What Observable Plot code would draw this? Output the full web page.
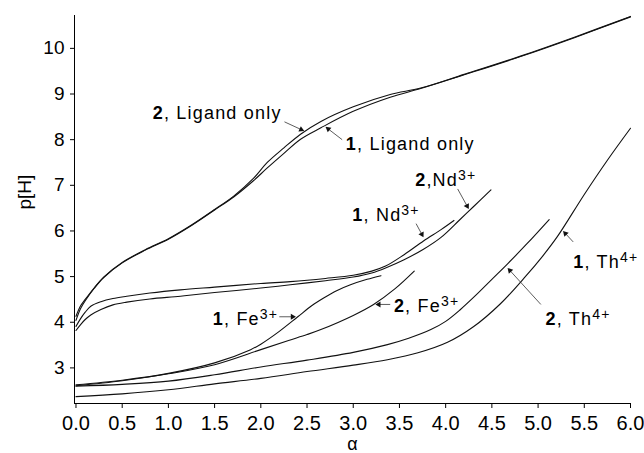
<!DOCTYPE html>
<html><head><meta charset="utf-8">
<script src="https://cdn.jsdelivr.net/npm/d3@7"></script>
<script src="https://cdn.jsdelivr.net/npm/@observablehq/plot@0.6"></script>
<style>body{margin:0;background:#fff} svg{display:block}</style>
</head><body><div id="chart"></div>
<script>
// ---- axes ----
const xDomain = [-0.016, 6];
const yDomain = [2.22, 10.72];
const xTicks = [0, 0.5, 1, 1.5, 2, 2.5, 3, 3.5, 4, 4.5, 5, 5.5, 6];
const yTicks = [3, 4, 5, 6, 7, 8, 9, 10];
const xLabel = "α";
const yLabel = "p[H]";

// ---- series (alpha, p[H]) ----
const lig1A = [0, 0.05, 0.1, 0.2, 0.3, 0.5, 0.75, 1.0, 1.25, 1.5, 1.71, 1.92, 2.07, 2.25, 2.43, 2.65, 3.0, 3.4, 3.73, 4.2, 4.81, 5.4, 6.0];
const lig1P = [4.04, 4.3, 4.47, 4.75, 4.98, 5.3, 5.58, 5.82, 6.12, 6.46, 6.75, 7.1, 7.38, 7.7, 8.01, 8.26, 8.62, 8.93, 9.12, 9.42, 9.82, 10.24, 10.69];
const lig2A = [0, 0.05, 0.1, 0.2, 0.3, 0.5, 0.75, 1.0, 1.25, 1.5, 1.71, 1.92, 2.07, 2.25, 2.43, 2.65, 3.0, 3.4, 3.73, 4.2, 4.81, 5.4, 6.0];
const lig2P = [4.13, 4.36, 4.5, 4.76, 4.99, 5.31, 5.59, 5.83, 6.13, 6.47, 6.77, 7.15, 7.5, 7.82, 8.12, 8.4, 8.72, 8.99, 9.13, 9.43, 9.83, 10.25, 10.7];
const nd1A = [0, 0.05, 0.1, 0.16, 0.27, 0.4, 0.55, 0.8, 1.13, 1.5, 2.0, 2.32, 2.7, 3.0, 3.2, 3.35, 3.55, 3.76, 3.95, 4.09];
const nd1P = [3.91, 4.08, 4.22, 4.35, 4.45, 4.52, 4.57, 4.64, 4.71, 4.77, 4.85, 4.89, 4.96, 5.03, 5.12, 5.23, 5.48, 5.78, 6.03, 6.23];
const nd2A = [0, 0.05, 0.1, 0.16, 0.27, 0.4, 0.55, 0.8, 1.13, 1.5, 2.0, 2.32, 2.7, 3.0, 3.2, 3.35, 3.55, 3.76, 3.95, 4.15, 4.3, 4.49];
const nd2P = [3.82, 3.95, 4.06, 4.16, 4.28, 4.38, 4.44, 4.51, 4.57, 4.65, 4.75, 4.82, 4.91, 4.99, 5.08, 5.19, 5.37, 5.6, 5.86, 6.24, 6.53, 6.9];
const fe1A = [0, 0.5, 1.0, 1.5, 1.89, 2.0, 2.2, 2.4, 2.55, 2.68, 2.82, 2.97, 3.15, 3.3];
const fe1P = [2.63, 2.73, 2.88, 3.11, 3.4, 3.52, 3.8, 4.12, 4.36, 4.53, 4.69, 4.82, 4.94, 5.02];
const fe2A = [0, 0.5, 1.0, 1.5, 2.0, 2.3, 2.5, 2.65, 3.0, 3.22, 3.45, 3.66];
const fe2P = [2.61, 2.72, 2.87, 3.07, 3.4, 3.6, 3.73, 3.84, 4.15, 4.39, 4.73, 5.12];
const th1A = [0, 0.5, 1.0, 1.5, 2.0, 2.5, 3.0, 3.37, 3.7, 4.02, 4.3, 4.59, 4.85, 5.05, 5.21, 5.5, 5.75, 6.0];
const th1P = [2.37, 2.43, 2.52, 2.65, 2.77, 2.92, 3.06, 3.18, 3.33, 3.56, 3.9, 4.4, 4.97, 5.45, 5.88, 6.8, 7.55, 8.25];
const th2A = [0, 0.5, 1.0, 1.5, 2.0, 2.5, 3.0, 3.37, 3.6, 3.84, 4.0, 4.16, 4.31, 4.5, 4.67, 4.88, 5.12];
const th2P = [2.6, 2.64, 2.71, 2.85, 3.02, 3.17, 3.34, 3.51, 3.65, 3.84, 4.02, 4.28, 4.56, 4.94, 5.28, 5.72, 6.25];

// ---- annotations ----
const labNum  = ["2", "1", "2", "1", "1", "2", "1", "2"];
const labName = [", Ligand only", ", Ligand only", ",Nd", ", Nd", ", Fe", ", Fe", ", Th", ", Th"];
const labSup  = ["", "", "3+", "3+", "3+", "3+", "4+", "4+"];
const labA = [0.83, 2.92, 3.67, 2.99, 1.48, 3.44, 5.38, 5.08];
const labP = [8.58, 7.90, 7.11, 6.34, 4.07, 4.36, 5.32, 4.07];
const arrA1 = [2.256, 2.88, 4.13, 3.68, 2.20, 3.40, 5.38, 5.03];
const arrP1 = [8.39, 8.00, 6.92, 6.16, 4.12, 4.39, 5.76, 4.39];
const arrA2 = [2.47, 2.70, 4.25, 3.76, 2.38, 3.24, 5.27, 4.67];
const arrP2 = [8.19, 8.28, 6.48, 5.86, 4.12, 4.39, 6.00, 5.19];

const series = [
  ["lig1", lig1A, lig1P], ["lig2", lig2A, lig2P],
  ["nd1", nd1A, nd1P], ["nd2", nd2A, nd2P],
  ["fe1", fe1A, fe1P], ["fe2", fe2A, fe2P],
  ["th1", th1A, th1P], ["th2", th2A, th2P]
];
const rows = series.flatMap(([id, a, p]) => a.map((v, i) => ({id, a: v, p: p[i]})));

const W = 644, H = 453, mL = 74, mR = 14, mT = 15, mB = 50;
const sx = Plot.scale({x: {domain: xDomain, range: [mL, W - mR]}});
const sy = Plot.scale({y: {domain: yDomain, range: [H - mB, mT]}});
const HEAD = 3.4;
const arrows = labNum.map((_, i) => {
  const px1 = sx.apply(arrA1[i]), py1 = sy.apply(arrP1[i]);
  const px2 = sx.apply(arrA2[i]), py2 = sy.apply(arrP2[i]);
  const len = Math.hypot(px2 - px1, py2 - py1);
  const ux = (px2 - px1) / len, uy = (py2 - py1) / len;
  return {
    x1: arrA1[i], y1: arrP1[i],
    hx: sx.invert(px2 - ux * HEAD), hy: sy.invert(py2 - uy * HEAD),
    rot: Math.atan2(ux, -uy) * 180 / Math.PI
  };
});
const labels = labNum.map((n, i) => ({a: labA[i], p: labP[i], t: n + "|" + labName[i] + "|" + labSup[i]}));

const svg = Plot.plot({
  width: W, height: H,
  marginLeft: mL, marginRight: mR, marginTop: mT, marginBottom: mB,
  x: {domain: xDomain},
  y: {domain: yDomain},
  style: {fontFamily: "'Liberation Sans', Arial, Helvetica, sans-serif", background: "#fff", color: "#000"},
  marks: [
    Plot.axisX({ticks: xTicks, tickFormat: d3.format(".1f"), tickSize: 5, tickPadding: 7, fontSize: 20, label: null}),
    Plot.axisY({ticks: yTicks, tickSize: 4, tickPadding: 6, fontSize: 19, label: null}),
    Plot.ruleX([xDomain[0]], {stroke: "#000", strokeWidth: 1}),
    Plot.ruleY([yDomain[0]], {stroke: "#000", strokeWidth: 1}),
    Plot.line(rows, {x: "a", y: "p", z: "id", curve: "catmull-rom", stroke: "#111", strokeWidth: 1.1}),
    Plot.link(arrows, {x1: "x1", y1: "y1", x2: "hx", y2: "hy", stroke: "#333", strokeWidth: 0.8}),
    Plot.dot(arrows, {x: "hx", y: "hy", symbol: "triangle", r: 2.2, fill: "#111", stroke: null, rotate: "rot"}),
    Plot.text(labels, {x: "a", y: "p", text: "t", textAnchor: "start", lineAnchor: "middle", fontSize: 18, fill: "#000"}),
    Plot.text([yLabel], {frameAnchor: "left", dx: -50, rotate: -90, fontSize: 19, fill: "#000"}),
    Plot.text([xLabel], {frameAnchor: "bottom", dy: 46, lineAnchor: "bottom", fontSize: 18, fill: "#000"})
  ]
});

d3.select(svg).selectAll("text").each(function () {
  const s = this.textContent;
  if (!s.includes("|")) return;
  const [num, name, sup] = s.split("|");
  const t = d3.select(this);
  t.text(null).attr("letter-spacing", "1.2px");
  t.append("tspan").attr("font-weight", "bold").text(num);
  t.append("tspan").text(name);
  if (sup) t.append("tspan").attr("dy", "-0.42em").attr("font-size", "0.78em").text(sup);
});
document.getElementById("chart").append(svg);
</script>
</body></html>
